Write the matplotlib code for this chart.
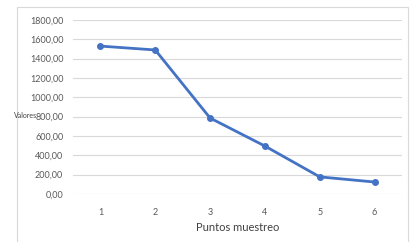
import matplotlib
matplotlib.use("Agg")
import matplotlib.pyplot as plt
import matplotlib.patches as patches
from matplotlib.ticker import FuncFormatter

# Data
puntos = [1, 2, 3, 4, 5, 6]
valores = [1530, 1490, 786, 496, 177, 124]

plt.rcParams['font.family'] = ['Lato', 'DejaVu Sans']

W, H = 413, 242
fig = plt.figure(figsize=(W / 100, H / 100), dpi=100)

# outer chart border like the spreadsheet frame
frame = patches.Rectangle((17 / W, -0.1), (408 - 17) / W, (H - 7) / H + 0.1,
                          transform=fig.transFigure, fill=False,
                          edgecolor='#d9d9d9', linewidth=0.8)
fig.patches.append(frame)

ax = fig.add_axes([73 / W, (H - 194) / H, (402 - 73) / W, (194 - 20) / H])
ax.plot(puntos, valores, color='#4472c4', linewidth=2.0,
        marker='o', markersize=4, zorder=3)

ax.set_xlim(0.5, 6.5)
ax.set_ylim(0, 1800)
ax.set_yticks(range(0, 1801, 200))
ax.set_xticks(puntos)
ax.yaxis.set_major_formatter(FuncFormatter(lambda v, p: f"{v:.2f}".replace('.', ',')))

ax.grid(axis='y', color='#d9d9d9', linewidth=0.8)
ax.set_axisbelow(True)
for s in ax.spines.values():
    s.set_visible(False)
ax.tick_params(length=0, labelsize=6.5, labelcolor='#595959')
ax.tick_params(axis='y', pad=7)
ax.tick_params(axis='x', pad=10)

ax.set_xlabel('Puntos muestreo', fontsize=8, color='#404040', labelpad=4)
fig.text(37 / W, (H - 115) / H, 'Valores', fontsize=5, color='#404040',
         va='center', ha='right')

fig.savefig('out.png', dpi=100)
